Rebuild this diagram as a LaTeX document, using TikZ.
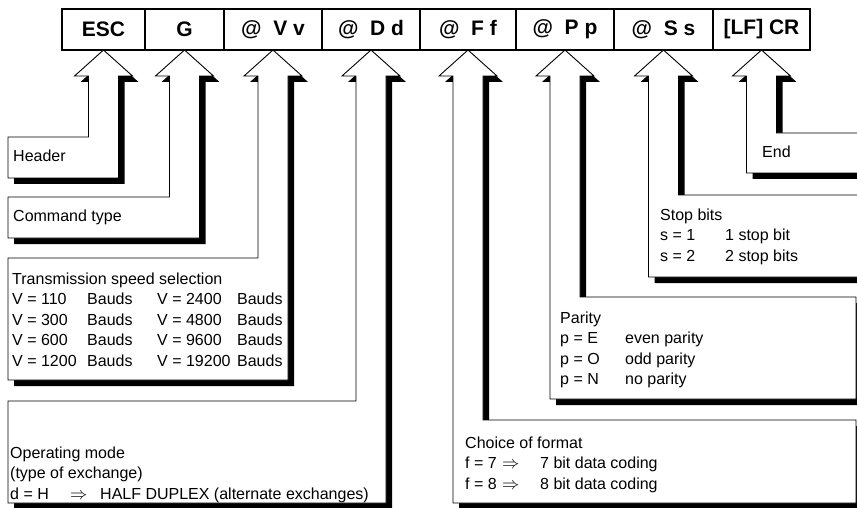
\documentclass[tikz,border=0pt]{standalone}
\usepackage{fontspec}
\setmainfont{Liberation Sans}
\usetikzlibrary{positioning,shadows}

\tikzset{
  cell/.style={draw, line width=2.2pt, minimum height=41pt, inner sep=0pt, outer sep=0pt,
    font=\fontsize{21}{25}\selectfont\bfseries},
  callout/.style={draw, line width=0.9pt, fill=white,
    drop shadow={shadow xshift=6pt, shadow yshift=-6pt, opacity=1, fill=black}},
  lbl/.style={anchor=base west, inner sep=0pt, font=\fontsize{16}{20.5}\selectfont}
}

\begin{document}
\begin{tikzpicture}[x=1pt, y=-1pt]
		\useasboundingbox (0,0) rectangle (857,508);

		% chaine de commande
		\node[cell, minimum width=83pt, anchor=west] (esc) at (62,29.5) {ESC};
		\node[cell, minimum width=79pt, right=0pt of esc] (g) {G};
		\node[cell, minimum width=98pt, right=0pt of g] (vv) {@~ V~v};
		\node[cell, minimum width=98pt, right=0pt of vv] (dd) {@~ D~d};
		\node[cell, minimum width=96pt, right=0pt of dd] (ff) {@~ F~f};
		\node[cell, minimum width=98pt, right=0pt of ff] (pp) {@~ P~p};
		\node[cell, minimum width=99pt, right=0pt of pp] (ss) {@~ S~s};
		\node[cell, minimum width=97pt, right=0pt of ss] (lf) {[LF] CR};

		% header
		\draw[callout] (esc.south) -- ++(29,26) -- ++(-14,0) |- (8,178) -- (8,137)
			-| ([shift={(-15pt,-26pt)}]esc.south) -- ++(-14,0) -- cycle;
		\node[lbl] (header) at (13,162) {Header};

		% command type
		\draw[callout] (g.south) -- ++(29,26) -- ++(-14,0) |- (8,238) -- (8,197)
			-| ([shift={(-15pt,-26pt)}]g.south) -- ++(-14,0) -- cycle;
		\node[lbl] (cmd) at (13,222) {Command type};

		% transmission speed
		\draw[callout] (vv.south) -- ++(29,26) -- ++(-14,0) |- (8,380) -- (8,258)
			-| ([shift={(-15pt,-26pt)}]vv.south) -- ++(-14,0) -- cycle;
		\node[lbl] (speed) at (12,284) {\begin{tabular}[t]{@{}p{75pt}@{}p{70pt}@{}p{80pt}@{}l@{}}
			\multicolumn{4}{@{}l@{}}{Transmission speed selection}\\
			V = 110 & Bauds & V = 2400 & Bauds\\
			V = 300 & Bauds & V = 4800 & Bauds\\
			V = 600 & Bauds & V = 9600 & Bauds\\
			V = 1200 & Bauds & V = 19200 & Bauds
		\end{tabular}};

		% operating mode
		\draw[callout] (dd.south) -- ++(29,26) -- ++(-14,0) |- (8,503) -- (8,401)
			-| ([shift={(-15pt,-26pt)}]dd.south) -- ++(-14,0) -- cycle;
		\node[lbl] (mode) at (10,458) {\begin{tabular}[t]{@{}p{60pt}@{}p{30pt}@{}l@{}}
			\multicolumn{3}{@{}l@{}}{Operating mode}\\
			\multicolumn{3}{@{}l@{}}{(type of exchange)}\\
			d = H & $\Rightarrow$ & HALF DUPLEX (alternate exchanges)
		\end{tabular}};

		% choice of format
		\draw[callout] (ff.south) -- ++(29,26) -- ++(-14,0) |- (856,420) -- (856,503)
			-| ([shift={(-15pt,-26pt)}]ff.south) -- ++(-14,0) -- cycle;
		\node[lbl] (format) at (465,448) {\begin{tabular}[t]{@{}p{37pt}@{}p{38pt}@{}l@{}}
			\multicolumn{3}{@{}l@{}}{Choice of format}\\
			f = 7 & $\Rightarrow$ & 7 bit data coding\\
			f = 8 & $\Rightarrow$ & 8 bit data coding
		\end{tabular}};

		% parity
		\draw[callout] (pp.south) -- ++(29,26) -- ++(-14,0) |- (856,297) -- (856,399)
			-| ([shift={(-15pt,-26pt)}]pp.south) -- ++(-14,0) -- cycle;
		\node[lbl] (parity) at (560,323) {\begin{tabular}[t]{@{}p{65pt}@{}l@{}}
			\multicolumn{2}{@{}l@{}}{Parity}\\
			p = E & even parity\\
			p = O & odd parity\\
			p = N & no parity
		\end{tabular}};

		% stop bits
		\draw[callout] (ss.south) -- ++(29,26) -- ++(-14,0) |- (870,195) -- (870,277)
			-| ([shift={(-15pt,-26pt)}]ss.south) -- ++(-14,0) -- cycle;
		\node[lbl] (stop) at (660,220) {\begin{tabular}[t]{@{}p{65pt}@{}l@{}}
			\multicolumn{2}{@{}l@{}}{Stop bits}\\
			s = 1 & 1 stop bit\\
			s = 2 & 2 stop bits
		\end{tabular}};

		% end
		\draw[callout] (lf.south) -- ++(29,26) -- ++(-14,0) |- (870,133) -- (870,173)
			-| ([shift={(-15pt,-26pt)}]lf.south) -- ++(-14,0) -- cycle;
		\node[lbl] (term) at (762,158) {End};

\end{tikzpicture}
\end{document}
